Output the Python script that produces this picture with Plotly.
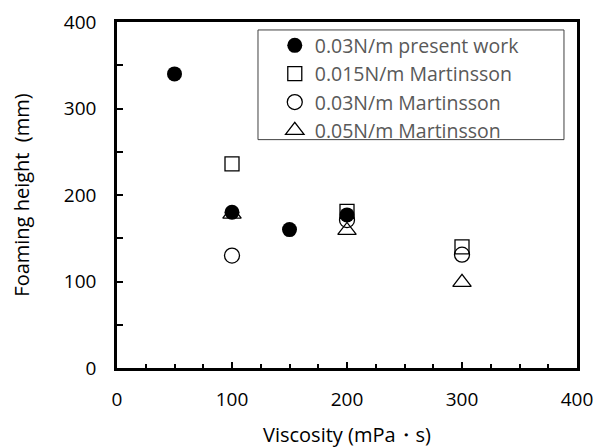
import plotly.graph_objects as go

# Data
present_x = [50, 100, 150, 200]
present_y = [340, 180, 160, 177]
m015_x = [100, 200, 300]
m015_y = [236, 181, 140]
m03_x = [100, 200, 300]
m03_y = [130, 171, 131]
m05_x = [100, 200, 300]
m05_y = [178, 159, 99]

names = ["0.03N/m present work", "0.015N/m Martinsson", "0.03N/m Martinsson", "0.05N/m Martinsson"]
x_ticks = [0, 100, 200, 300, 400]
y_ticks = [0, 100, 200, 300, 400]

FONT = "Open Sans"

fig = go.Figure()
fig.add_trace(go.Scatter(x=present_x, y=present_y, mode="markers", name=names[0],
                         marker=dict(symbol="circle", size=15, color="black")))
fig.add_trace(go.Scatter(x=m015_x, y=m015_y, mode="markers", name=names[1],
                         marker=dict(symbol="square-open", size=14, color="black", line=dict(width=1.3))))
fig.add_trace(go.Scatter(x=m03_x, y=m03_y, mode="markers", name=names[2],
                         marker=dict(symbol="circle-open", size=15, color="black", line=dict(width=1.3))))
fig.add_trace(go.Scatter(x=m05_x, y=m05_y, mode="markers", name=names[3],
                         marker=dict(symbol="triangle-up-open", size=16, color="black", line=dict(width=1.3))))

axis_common = dict(showgrid=False, zeroline=False, showline=True, linecolor="black", linewidth=2.5,
                   mirror=True, ticks="inside", tickcolor="black", tickwidth=2, automargin=False,
                   ticklabeloverflow="allow",
                   tickfont=dict(family=FONT, size=19, color="black"))

fig.update_xaxes(range=[0, 400], tickvals=x_ticks, ticklen=6, ticklabelstandoff=12,
                 minor=dict(dtick=25, ticks="inside", ticklen=4, tickcolor="black", tickwidth=2),
                 title=dict(text="Viscosity (mPa・s)", font=dict(family=FONT, size=20, color="black"), standoff=18),
                 **axis_common)
fig.update_yaxes(range=[0, 400], tickvals=y_ticks, ticklen=6, ticklabelstandoff=14,
                 minor=dict(dtick=50, ticks="inside", ticklen=6, tickcolor="black", tickwidth=2),
                 title=dict(text="Foaming height  (mm)", font=dict(family=FONT, size=20, color="black"), standoff=29),
                 **axis_common)

fig.add_shape(type="rect", xref="paper", yref="paper", x0=0.3065, x1=0.9717, y0=0.660, y1=0.977,
              line=dict(color="#404040", width=1), fillcolor="rgba(0,0,0,0)", layer="above")

fig.update_layout(
    width=598, height=440,
    margin=dict(l=109, r=29, t=14, b=80),
    paper_bgcolor="white", plot_bgcolor="white",
    showlegend=True,
    legend=dict(x=0.343, y=0.988, xanchor="left", yanchor="top",
                bgcolor="rgba(0,0,0,0)", borderwidth=0,
                font=dict(family=FONT, size=19.5, color="#595959"),
                traceorder="normal", tracegroupgap=0),
)

fig.write_html("out.html")
